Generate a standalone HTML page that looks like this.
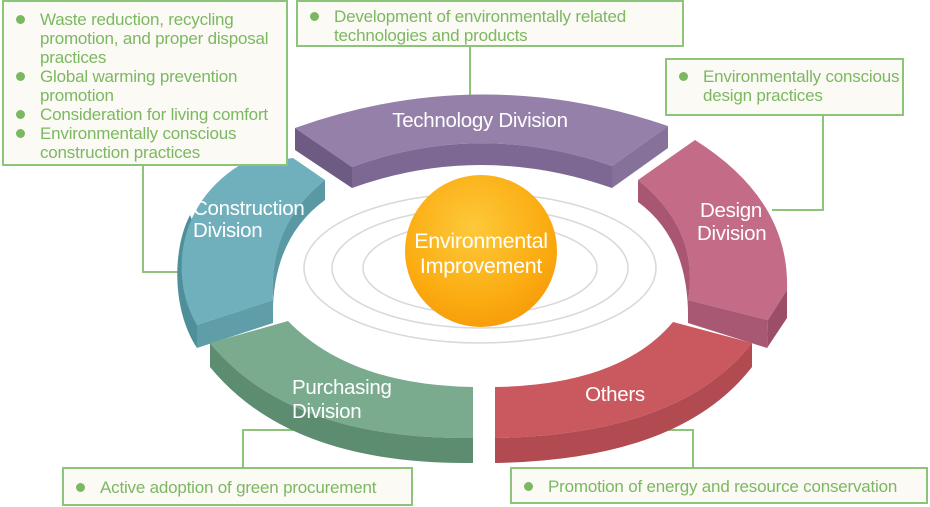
<!DOCTYPE html>
<html><head><meta charset="utf-8"><style>
body{margin:0;width:930px;height:507px;background:#fff;overflow:hidden;font-family:"Liberation Sans","DejaVu Sans",sans-serif;}
svg{position:absolute;left:0;top:0}
.box{position:absolute;background:#fcfaf4;border:2px solid #8cc47a;box-sizing:border-box;color:#7cb862;font-size:17px;line-height:19px;letter-spacing:-0.2px}
.box ul{margin:0;padding:0;list-style:none}
.box li{position:relative;padding-left:36px}
.box li:before{content:"";position:absolute;left:12px;top:5px;width:9px;height:9px;border-radius:50%;background:#7cb862}
</style></head><body>
<svg width="930" height="507" viewBox="0 0 930 507">
<defs>
<radialGradient id="sp" cx="0.45" cy="0.35" r="0.7"><stop offset="0" stop-color="#fdc93a"/><stop offset="0.7" stop-color="#fbab10"/><stop offset="1" stop-color="#f59a0a"/></radialGradient>
</defs>
<g fill="none" stroke="#d8d8d8" stroke-width="1.5">
<ellipse cx="480" cy="268" rx="176" ry="75"/>
<ellipse cx="480" cy="268" rx="148" ry="60"/>
<ellipse cx="480" cy="268" rx="117" ry="46"/>
</g>
<g stroke="#8cc47a" stroke-width="2" fill="none">
<path d="M470,46 V98"/>
<path d="M143,165 V272 H180"/>
<path d="M823,115 V210 H772"/>
<path d="M243,468 V430 H295"/>
<path d="M658,430 H693 V467"/>
</g>
<!-- Technology -->
<path d="M295,128 Q480,62 668,126 L612,166 Q480,120 352,167 Z" fill="#9580aa"/>
<path d="M352,167 Q480,120 612,166 L612,188 Q480,142 352,188 Z" fill="#7c6892"/>
<path d="M295,128 L352,167 L352,188 L295,150 Z" fill="#6e5b84"/>
<path d="M612,166 L668,126 L668,148 L612,188 Z" fill="#86719b"/>
<!-- Construction -->
<path d="M197,348 C172,310 172,250 190,215 L200,240 C188,280 190,310 197,325 Z" fill="#4f8f9a"/>
<path d="M293,158 L325,180 Q268,225 273,300 L197,325 C170,280 175,205 240,165 Z" fill="#6fb0bc"/>
<path d="M325,180 L325,200 Q270,240 273,323 L273,300 Q268,225 325,180 Z" fill="#5a98a4"/>
<path d="M197,325 L273,300 L273,323 L197,348 Z" fill="#5f9ea9"/>
<!-- Design -->
<path d="M638,180 L695,140 Q790,200 787,290 L768,320 L688,300 Q700,230 638,180 Z" fill="#c36b87"/>
<path d="M638,180 Q700,230 688,300 L688,323 Q690,240 638,202 Z" fill="#a85672"/>
<path d="M688,300 L768,320 L767,348 L688,323 Z" fill="#a95874"/>
<path d="M768,320 L787,290 L787,318 L767,348 Z" fill="#9c4d68"/>
<!-- Purchasing -->
<path d="M210,343 L288,321 Q350,385 473,387 L473,438 Q290,440 210,343 Z" fill="#7aab8e"/>
<path d="M210,343 Q290,440 473,438 L473,463 Q290,465 210,367 Z" fill="#5c8d70"/>
<!-- Others -->
<path d="M495,387 Q620,385 673,322 L752,343 Q680,435 495,438 Z" fill="#c9585f"/>
<path d="M495,438 Q680,435 752,343 L752,367 Q680,460 495,463 Z" fill="#b24a52"/>
<circle cx="481" cy="251" r="76" fill="url(#sp)"/>
<g fill="#fff" font-family="Liberation Sans, sans-serif" font-size="20.5" letter-spacing="-0.3">
<text x="480" y="127" text-anchor="middle">Technology Division</text>
<text x="193" y="215">Construction</text>
<text x="193" y="237">Division</text>
<text x="700" y="217">Design</text>
<text x="697" y="240">Division</text>
<text x="292" y="394">Purchasing</text>
<text x="292" y="418">Division</text>
<text x="615" y="401" text-anchor="middle">Others</text>
<text x="481" y="248" font-size="21.5" text-anchor="middle">Environmental</text>
<text x="481" y="273" font-size="21.5" text-anchor="middle">Improvement</text>
</g>
</svg>
<div class="box" style="left:2px;top:0;width:286px;height:166px;padding-top:8px"><ul>
<li>Waste reduction, recycling promotion, and proper disposal practices</li>
<li>Global warming prevention promotion</li>
<li>Consideration for living comfort</li>
<li>Environmentally conscious construction practices</li></ul></div>
<div class="box" style="left:296px;top:0;width:388px;height:47px;padding-top:5px"><ul><li>Development of environmentally related technologies and products</li></ul></div>
<div class="box" style="left:665px;top:58px;width:239px;height:58px;padding-top:7px"><ul><li>Environmentally conscious design practices</li></ul></div>
<div class="box" style="left:62px;top:467px;width:351px;height:39px;padding-top:9px"><ul><li>Active adoption of green procurement</li></ul></div>
<div class="box" style="left:510px;top:467px;width:418px;height:37px;padding-top:8px"><ul><li>Promotion of energy and resource conservation</li></ul></div>
</body></html>
